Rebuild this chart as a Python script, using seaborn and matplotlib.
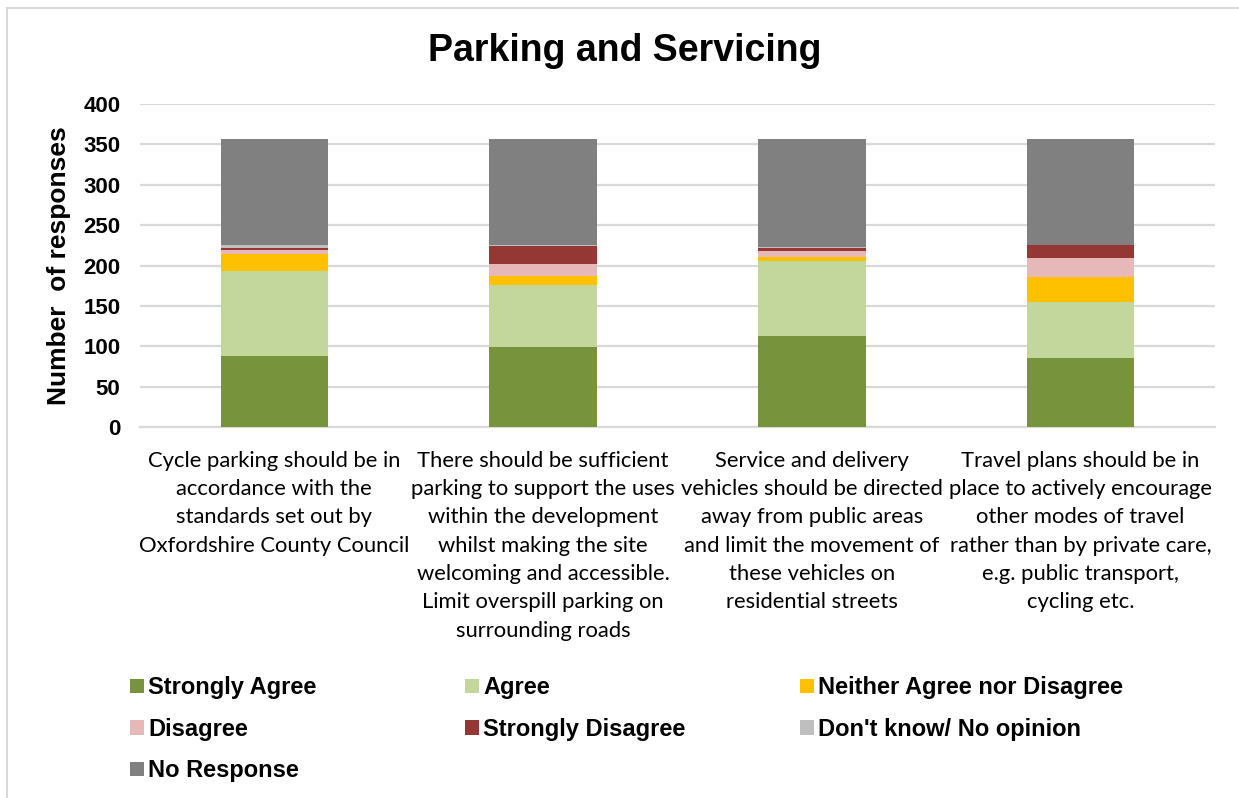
import numpy as np
import pandas as pd
import matplotlib
matplotlib.use("Agg")
import matplotlib.pyplot as plt
import matplotlib.patches as mpatches
import seaborn as sns

categories = [
    "Cycle parking should be in\naccordance with the\nstandards set out by\nOxfordshire County Council",
    "There should be sufficient\nparking to support the uses\nwithin the development\nwhilst making the site\nwelcoming and accessible.\nLimit overspill parking on\nsurrounding roads",
    "Service and delivery\nvehicles should be directed\naway from public areas\nand limit the movement of\nthese vehicles on\nresidential streets",
    "Travel plans should be in\nplace to actively encourage\nother modes of travel\nrather than by private care,\ne.g. public transport,\ncycling etc.",
]
series_names = ["Strongly Agree", "Agree", "Neither Agree nor Disagree", "Disagree",
                "Strongly Disagree", "Don't know/ No opinion", "No Response"]
strongly_agree = [88, 99, 113, 86]
agree = [105, 77, 92, 69]
neither = [21, 11, 6, 31]
disagree = [5, 15, 7, 23]
strongly_disagree = [3, 22, 4, 16]
dont_know = [3, 1, 1, 1]
no_response = [132, 132, 134, 131]
colors = ["#77933C", "#C3D69B", "#FFC000", "#E6B9B8", "#953735", "#BFBFBF", "#808080"]
yticks = [0, 50, 100, 150, 200, 250, 300, 350, 400]

values = [strongly_agree, agree, neither, disagree, strongly_disagree, dont_know, no_response]
cum = np.cumsum(np.array(values), axis=0)
rows = []
for si, name in enumerate(series_names):
    for ci, cat in enumerate(categories):
        rows.append({"category": cat, "series": name, "top": cum[si, ci]})
df = pd.DataFrame(rows)

sns.set_theme(style="white")
plt.rcParams.update({"text.color": "black", "xtick.color": "black",
                     "ytick.color": "black", "axes.labelcolor": "black"})
W, H = 1239, 798
fig = plt.figure(figsize=(W / 100, H / 100), dpi=100)
ax = fig.add_axes([140 / W, 1 - 427 / H, (1215 - 140) / W, (427 - 104) / H])

# draw cumulative tops from the highest down so each lower segment overlays
for si in range(len(series_names) - 1, -1, -1):
    sub = df[df["series"] == series_names[si]]
    sns.barplot(data=sub, x="category", y="top", order=categories, color=colors[si],
                width=0.40, saturation=1, edgecolor="none", linewidth=0, ax=ax, zorder=3)

ax.set_ylim(0, 400)
ax.set_yticks(yticks)
ax.set_yticklabels([str(t) for t in yticks], fontfamily="Liberation Sans",
                   fontweight="bold", fontsize=16)
ax.set_xticks(range(len(categories)))
ax.set_xticklabels(categories, fontfamily="Lato", fontsize=15.8, linespacing=1.52, va="top")
ax.tick_params(axis="y", length=0, pad=14)
ax.tick_params(axis="x", length=0, pad=17)
ax.yaxis.grid(True, color="#D9D9D9", linewidth=1.6, zorder=0)
ax.set_axisbelow(True)
for s in ["left", "right", "top"]:
    ax.spines[s].set_visible(False)
ax.spines["bottom"].set_color("#D9D9D9")
ax.spines["bottom"].set_linewidth(1.6)
ax.set_xlabel("")
ax.set_ylabel("Number  of responses", fontfamily="Liberation Sans", fontweight="bold",
              fontsize=19)
ax.yaxis.set_label_coords((71 - 140) / (1215 - 140), 0.5)

fig.text(625 / W, 1 - 51 / H, "Parking and Servicing", ha="center", va="center",
         fontfamily="Liberation Sans", fontweight="bold", fontsize=27)

# legend in three columns
handles = [mpatches.Patch(facecolor=c, edgecolor="none") for c in colors]
col_groups = [[0, 3, 6], [1, 4], [2, 5]]
col_x = [121, 456, 791]
for cx, grp in zip(col_x, col_groups):
    leg = fig.legend([handles[i] for i in grp], [series_names[i] for i in grp],
                     loc="upper left", bbox_to_anchor=(cx / W, 1 - 667 / H),
                     frameon=False, handlelength=0.56, handleheight=0.56,
                     handletextpad=0.18, labelspacing=0.78, borderaxespad=0,
                     prop={"family": "Liberation Sans", "weight": "bold", "size": 17})

# outer chart border
fig.patches.append(mpatches.Rectangle((7 / W, -0.1), 1.2, 1.1 - 8 / H,
                                      transform=fig.transFigure, fill=False,
                                      edgecolor="#D9D9D9", linewidth=1.5))

fig.savefig("out.png", dpi=100)
